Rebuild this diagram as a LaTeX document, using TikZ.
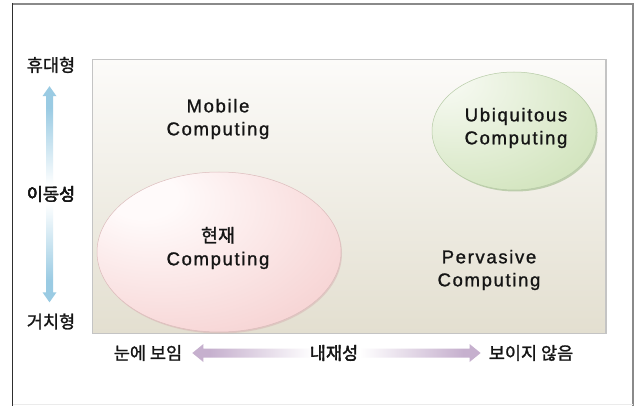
\documentclass[tikz,border=0pt]{standalone}
\usepackage{fontspec}
\setmainfont{Liberation Sans}
\newfontfamily\kr[FakeBold=1.3]{Noto Sans CJK KR}
\newfontfamily\lat[LetterSpace=9,FakeBold=1.2]{Liberation Sans}
\usetikzlibrary{calc}

\definecolor{txt}{HTML}{151515}
\definecolor{framedark}{HTML}{2E2E2E}
\definecolor{framegray}{HTML}{8A8A8A}
\definecolor{boxtop}{HTML}{FCFBF9}
\definecolor{boxbot}{HTML}{E3DFD0}
\definecolor{boxline}{HTML}{C4C4C4}
\definecolor{pinkhi}{HTML}{FFFAFA}
\definecolor{pinkmid}{HTML}{F7D6D6}
\definecolor{pinkedge}{HTML}{EEB4B4}
\definecolor{pinkline}{HTML}{C49090}
\definecolor{greenhi}{HTML}{F4F8EE}
\definecolor{greenmid}{HTML}{D5E6C2}
\definecolor{greenedge}{HTML}{B0CD8F}
\definecolor{greenline}{HTML}{86A86B}
\definecolor{arrowblue}{HTML}{9ACBE3}
\definecolor{arrowlilac}{HTML}{C6B0CE}

% soft spot-lit fills for the two ellipses
\pgfdeclareradialshading{pinkglow}{\pgfpoint{-17bp}{19bp}}{%
  color(0bp)=(pinkhi); color(7bp)=(pinkhi); color(38bp)=(pinkmid); color(85bp)=(pinkedge)}
\pgfdeclareradialshading{greenglow}{\pgfpoint{-24bp}{24bp}}{%
  color(0bp)=(greenhi); color(7bp)=(greenhi); color(40bp)=(greenmid); color(90bp)=(greenedge)}
% arrows fade to white in the middle
\pgfdeclareverticalshading{bluefade}{100bp}{%
  color(0bp)=(arrowblue); color(30bp)=(arrowblue); color(48bp)=(white);
  color(52bp)=(white); color(70bp)=(arrowblue); color(100bp)=(arrowblue)}
\pgfdeclarehorizontalshading{lilacfade}{100bp}{%
  color(0bp)=(arrowlilac); color(28bp)=(arrowlilac); color(46bp)=(white);
  color(54bp)=(white); color(72bp)=(arrowlilac); color(100bp)=(arrowlilac)}

\tikzset{
  latlabel/.style={inner sep=0pt, align=center, text=txt,
    font=\lat\fontsize{18.5}{23}\selectfont},
  krlabel/.style={inner sep=0pt, text=txt, font=\kr\fontsize{17.5}{20}\selectfont},
}

\begin{document}
\begin{tikzpicture}[x=1pt,y=-1pt]
\useasboundingbox (0,0) rectangle (642,406);
\fill[white] (0,0) rectangle (642,406);

% outer frame
\draw[framegray, line width=1.2pt] (12.5,4) -- (633,4) -- (633,406);
\draw[framedark, line width=1.3pt] (12.5,406) -- (12.5,3.4);
\draw[black!8, line width=0.8pt] (12.5,404.5) -- (633,404.5);

% plot area
\shade[top color=boxtop, bottom color=boxbot] (92.5,59.5) rectangle (606,333.5);
\draw[boxline, line width=1.3pt] (92.5,59.5) rectangle (606,333.5);

% ellipses
\fill[pinkline!70, opacity=0.5] (220,253.5) ellipse [x radius=122, y radius=80];
\shade[shading=pinkglow] (219,252) ellipse [x radius=122, y radius=80];
\draw[pinkline!60, line width=0.5pt] (219,252) ellipse [x radius=122, y radius=80];

\fill[greenline!80, opacity=0.6] (515.5,132.5) ellipse [x radius=82, y radius=59];
\shade[shading=greenglow] (514,131) ellipse [x radius=82, y radius=59];
\draw[greenline!60, line width=0.5pt] (514,131) ellipse [x radius=82, y radius=59];

% axis labels
\node[krlabel] (portable) at (51,65) {휴대형};
\node[krlabel] (mobility) at (51,194) {이동성};
\node[krlabel] (fixed) at (51,321.5) {거치형};

\node[krlabel] (visible) at (148,353) {눈에 보임};
\node[krlabel] (embed) at (334,353) {내재성};
\node[krlabel] (invisible) at (531,353) {보이지 않음};

% vertical double arrow between the mobility ends
\coordinate (vt) at ($(portable.south)+(-1.5,13)$);
\coordinate (vb) at ($(fixed.north)+(-1.5,-11)$);
\shade[shading=bluefade]
  (vt) -- ($(vt)+(7,10)$) -- ($(vt)+(3.5,10)$) -- ($(vb)+(3.5,-10)$) -- ($(vb)+(7,-10)$)
  -- (vb) -- ($(vb)+(-7,-10)$) -- ($(vb)+(-3.5,-10)$) -- ($(vt)+(-3.5,10)$)
  -- ($(vt)+(-7,10)$) -- cycle;
\node[krlabel] at (mobility) {이동성};

% horizontal double arrow between the embeddedness ends
\coordinate (hl) at ($(visible.east)+(10,0)$);
\coordinate (hr) at ($(invisible.west)+(-8,0)$);
\shade[shading=lilacfade]
  (hl) -- ($(hl)+(11,-9)$) -- ($(hl)+(11,-4.5)$) -- ($(hr)+(-11,-4.5)$) -- ($(hr)+(-11,-9)$)
  -- (hr) -- ($(hr)+(-11,9)$) -- ($(hr)+(-11,4.5)$) -- ($(hl)+(11,4.5)$)
  -- ($(hl)+(11,9)$) -- cycle;
\node[krlabel] at (embed) {내재성};

% quadrant labels
\node[latlabel] (mobile) at (218,119) {Mobile\\Computing};
\node[latlabel] (ubi) at (516,128) {Ubiquitous\\Computing};
\node[latlabel] (perv) at (489,270) {Pervasive\\Computing};
\node[latlabel] (now) at (218,248) {{\kr 현재}\\Computing};
\end{tikzpicture}
\end{document}
